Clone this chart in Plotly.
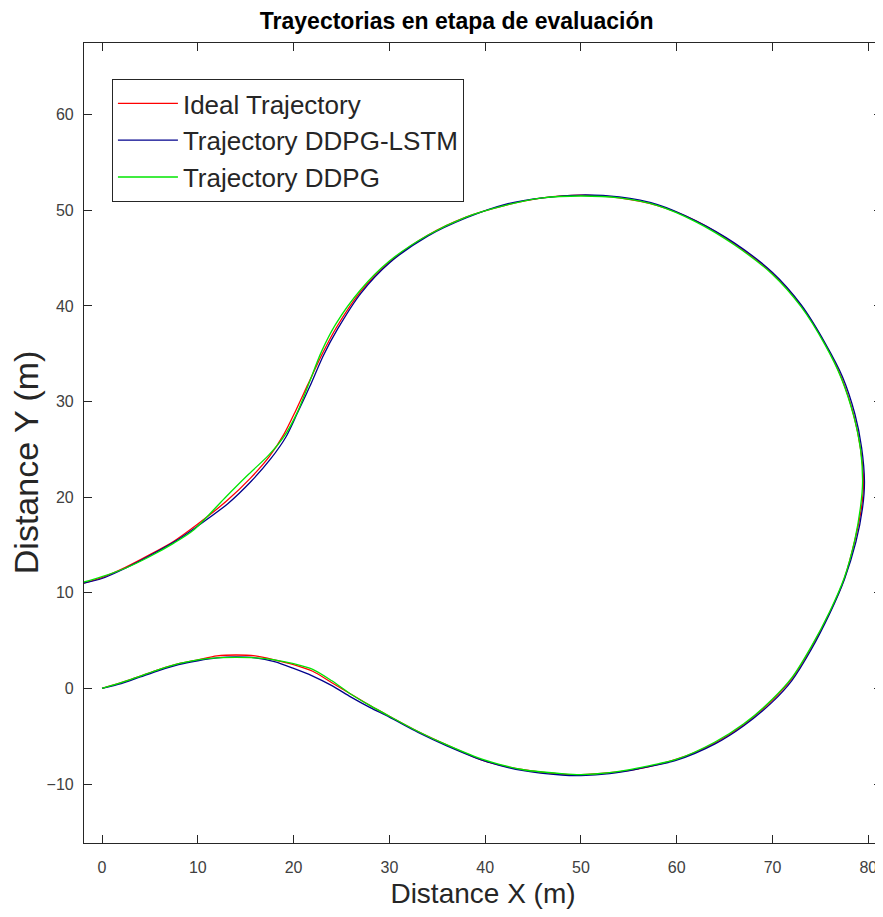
import plotly.graph_objects as go

# ---------------- data ----------------
x_ideal = [0, 2, 4, 6, 8, 10, 12, 14, 16, 18, 20, 22, 24, 26, 28, 30, 33, 36, 40, 44, 48, 50, 53, 56, 60, 64, 67, 70, 72, 74, 76, 77.5, 78.6, 79.3, 79.5, 79.2, 78.5, 77.2, 75.5, 73, 70, 66, 62, 58, 54, 50, 46, 42, 38, 34, 30, 27, 24.5, 23, 21.5, 20.2, 19, 17.5, 15.5, 13, 10, 7.5, 5, 2.5, 0, -2]
y_ideal = [0, 0.6, 1.3, 2.0, 2.6, 3.0, 3.4, 3.5, 3.4, 3.0, 2.5, 1.8, 0.6, -0.6, -1.8, -2.9, -4.5, -5.9, -7.6, -8.5, -8.95, -9.0, -8.8, -8.4, -7.4, -5.7, -3.8, -1.2, 1.0, 4.2, 8.0, 11.5, 15.5, 19, 21.5, 25, 28.5, 32.5, 36, 40, 43.4, 46.5, 48.9, 50.5, 51.3, 51.6, 51.3, 50.5, 49.3, 47.4, 44.6, 41.5, 37.8, 35.0, 31.8, 29.0, 26.6, 24.3, 22.0, 19.6, 17.2, 15.4, 14.0, 12.7, 11.6, 11.0]

x_lstm = [0, 2, 4, 6, 8, 10, 12, 14, 16, 18, 20, 22, 24, 26, 28, 30, 33, 36, 40, 44, 48, 50, 53, 56, 60, 64, 67, 70, 72, 74, 76, 77.5, 78.7, 79.4, 79.6, 79.3, 78.6, 77.3, 75.5, 73, 70, 66, 62, 58, 54, 50, 46, 42, 38, 34, 30, 27, 24.6, 23.1, 21.7, 20.4, 19.2, 17.6, 15.6, 13.1, 10, 7.5, 5, 2.5, 0, -2]
y_lstm = [0, 0.5, 1.2, 1.9, 2.5, 2.9, 3.2, 3.3, 3.2, 2.8, 2.1, 1.3, 0.3, -0.9, -2.0, -3.0, -4.6, -6.0, -7.6, -8.6, -9.05, -9.1, -8.9, -8.4, -7.5, -5.8, -3.9, -1.4, 0.8, 4.0, 7.9, 11.4, 15.3, 18.9, 21.6, 25.2, 28.7, 32.6, 36.1, 40.1, 43.5, 46.6, 48.9, 50.6, 51.4, 51.6, 51.3, 50.6, 49.2, 47.3, 44.5, 41.3, 37.6, 34.8, 31.6, 28.8, 26.3, 24.0, 21.7, 19.3, 17.0, 15.3, 13.9, 12.6, 11.5, 11.0]

x_ddpg = [0, 2, 4, 6, 8, 10, 12, 14, 16, 18, 20, 22, 24, 26, 28, 30, 33, 36, 40, 44, 48, 50, 53, 56, 60, 64, 67, 70, 72, 74, 76, 77.5, 78.6, 79.2, 79.4, 79.2, 78.5, 77.2, 75.5, 73, 70, 66, 62, 58, 54, 50, 46, 42, 38, 34, 30, 27, 24.4, 22.9, 21.6, 20.4, 19.1, 17.4, 15.3, 12.8, 9.6, 7.5, 5, 2.5, 0, -2]
y_ddpg = [0, 0.6, 1.3, 2.0, 2.6, 3.0, 3.2, 3.25, 3.2, 3.0, 2.6, 2.0, 0.8, -0.6, -1.8, -2.9, -4.5, -5.9, -7.5, -8.5, -8.9, -9.0, -8.8, -8.3, -7.4, -5.6, -3.7, -1.1, 1.1, 4.3, 8.1, 11.6, 15.6, 19.1, 21.5, 24.9, 28.4, 32.4, 35.9, 39.9, 43.3, 46.4, 48.8, 50.5, 51.3, 51.5, 51.3, 50.5, 49.3, 47.4, 44.7, 41.7, 38.1, 35.2, 31.9, 28.9, 26.5, 24.4, 22.4, 19.9, 16.6, 15.2, 13.8, 12.6, 11.7, 11.1]

series_names = ["Ideal Trajectory", "Trajectory DDPG-LSTM", "Trajectory DDPG"]
x_ticks = [0, 10, 20, 30, 40, 50, 60, 70, 80]
y_ticks = [-10, 0, 10, 20, 30, 40, 50, 60]

title_text = "Trayectorias en etapa de evaluación"
x_title = "Distance X (m)"
y_title = "Distance Y (m)"

# ---------------- figure ----------------
FONT = "Liberation Sans, Arial, Helvetica, sans-serif"
colors = ["#FF0000", "#00008C", "#00E600"]

fig = go.Figure()
for xs, ys, name, col in zip([x_ideal, x_lstm, x_ddpg], [y_ideal, y_lstm, y_ddpg], series_names, colors):
    fig.add_trace(go.Scatter(
        x=xs, y=ys, name=name, mode="lines",
        line=dict(color=col, width=1.3, shape="spline", smoothing=0.8),
    ))

axis_common = dict(
    showgrid=False, zeroline=False, automargin=False,
    showline=True, linecolor="#262626", linewidth=1.2, mirror="ticks",
    ticks="inside", ticklen=8, tickwidth=1, tickcolor="#262626",
    tickfont=dict(family=FONT, size=16, color="#404040"),
)

# the page body adds an 8 px offset, so the figure is sized to fit the window
fig.update_layout(
    width=875, height=909,
    margin=dict(l=76, r=1, t=35, b=74, autoexpand=False),
    paper_bgcolor="white", plot_bgcolor="white",
    font=dict(family=FONT, color="#262626"),
    title=dict(text="<b>" + title_text + "</b>", x=0.467, xref="paper", xanchor="center",
               y=0.995, yref="container", yanchor="top",
               font=dict(family=FONT, size=23, color="black")),
    xaxis=dict(range=[-1.88, 81.43], tickvals=x_ticks, ticklabelstandoff=10,
               title=dict(text=x_title, font=dict(family=FONT, size=28, color="#262626"), standoff=8),
               **axis_common),
    yaxis=dict(range=[-16.16, 67.5], tickvals=y_ticks, ticklabelstandoff=6,
               **axis_common),
    annotations=[dict(text=y_title, textangle=-90, showarrow=False,
                      xref="paper", yref="paper", x=-0.0727, y=0.476,
                      xanchor="center", yanchor="middle",
                      font=dict(family=FONT, size=34, color="#262626"))],
    legend=dict(x=0.035, y=0.955, xanchor="left", yanchor="top",
                bgcolor="white", bordercolor="#262626", borderwidth=1,
                font=dict(family=FONT, size=26, color="#262626"),
                itemwidth=60, tracegroupgap=0),
    showlegend=True,
)

fig.write_html("out.html")
